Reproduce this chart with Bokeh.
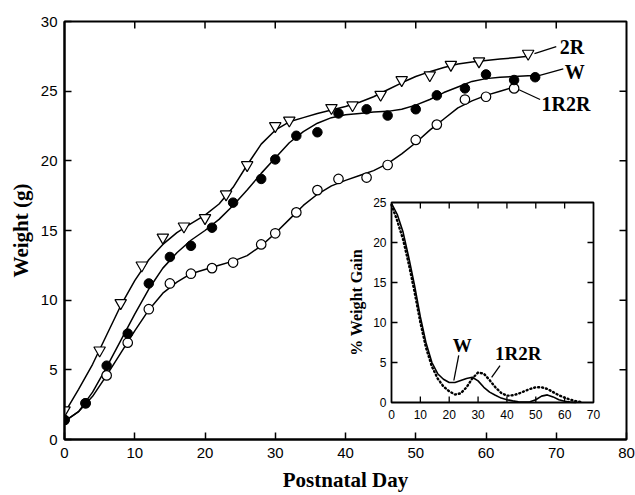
import math
from bokeh.plotting import figure
from bokeh.models import Range1d, FixedTicker
from bokeh.core.properties import value
from bokeh.embed import file_html
from bokeh.resources import INLINE

# ---------------- main chart data ----------------
x_ticks = [0, 10, 20, 30, 40, 50, 60, 70, 80]
y_ticks = [0, 5, 10, 15, 20, 25, 30]

days_2R = [0, 5, 8, 11, 14, 17, 20, 23, 26, 30, 32, 38, 41, 45, 48, 52, 55, 59, 66]
wt_2R = [2.1, 6.4, 9.8, 12.5, 14.5, 15.3, 15.9, 17.6, 19.7, 22.5, 22.9, 23.8, 24.0,
         24.75, 25.8, 26.15, 26.9, 27.15, 27.7]

days_W = [0, 3, 6, 9, 12, 15, 18, 21, 24, 28, 30, 33, 36, 39, 43, 46, 50, 53, 57, 60, 64, 67]
wt_W = [1.4, 2.6, 5.3, 7.6, 11.2, 13.1, 13.9, 15.2, 17.0, 18.7, 20.1, 21.8, 22.05, 23.4,
        23.7, 23.25, 23.7, 24.7, 25.2, 26.2, 25.8, 26.0]

days_1R2R = [0, 3, 6, 9, 12, 15, 18, 21, 24, 28, 30, 33, 36, 39, 43, 46, 50, 53, 57, 60, 64]
wt_1R2R = [1.4, 2.6, 4.6, 6.95, 9.35, 11.2, 11.9, 12.3, 12.7, 14.0, 14.8, 16.3, 17.9, 18.7,
           18.8, 19.7, 21.5, 22.6, 24.4, 24.6, 25.2]

# fitted curves
fit_days_2R = [0, 2, 4, 6, 8, 10, 12, 14, 16, 18, 20, 22, 24, 26, 28, 30, 32, 34, 36, 38,
               40, 42, 44, 46, 48, 50, 52, 54, 56, 58, 60, 62, 64, 66]
fit_2R = [1.9, 3.6, 5.4, 7.5, 9.6, 11.4, 12.9, 14.0, 14.85, 15.5, 16.1, 16.9, 18.1, 19.7,
          21.2, 22.2, 22.8, 23.1, 23.4, 23.65, 23.9, 24.2, 24.6, 25.1, 25.6, 26.05, 26.4,
          26.7, 26.95, 27.1, 27.2, 27.3, 27.4, 27.5]

fit_days_W = [0, 2, 4, 6, 8, 10, 12, 14, 16, 18, 20, 22, 24, 26, 28, 30, 32, 34, 36, 38,
              40, 42, 44, 46, 48, 50, 52, 54, 56, 58, 60, 62, 64, 66, 67]
fit_W = [1.3, 2.0, 3.4, 5.2, 7.1, 9.0, 10.8, 12.3, 13.4, 14.3, 15.0, 15.8, 16.8, 17.9,
         19.1, 20.2, 21.3, 22.1, 22.7, 23.1, 23.3, 23.4, 23.5, 23.55, 23.7, 24.0, 24.4,
         24.9, 25.3, 25.7, 25.9, 26.0, 26.05, 26.1, 26.1]

fit_days_1R2R = [0, 2, 4, 6, 8, 10, 12, 14, 16, 18, 20, 22, 24, 26, 28, 30, 32, 34, 36,
                 38, 40, 42, 44, 46, 48, 50, 52, 54, 56, 58, 60, 62, 64]
fit_1R2R = [1.3, 2.0, 3.1, 4.6, 6.2, 7.8, 9.3, 10.5, 11.3, 11.9, 12.2, 12.5, 12.8, 13.2,
            13.9, 14.8, 15.8, 16.8, 17.6, 18.2, 18.6, 18.95, 19.3, 19.8, 20.5, 21.3, 22.2,
            23.0, 23.8, 24.3, 24.7, 25.0, 25.3]

series_labels = ["2R", "W", "1R2R"]
label_x = [70.5, 71.2, 67.9]
label_y = [28.15, 26.4, 24.1]
leader_x0 = [66.9, 67.4, 64.7]
leader_y0 = [27.7, 26.1, 25.1]
leader_x1 = [70.0, 71.0, 67.7]
leader_y1 = [28.2, 26.6, 24.4]

# ---------------- inset data ----------------
inset_x_ticks = [0, 10, 20, 30, 40, 50, 60, 70]
inset_y_ticks = [0, 5, 10, 15, 20, 25]

gain_days_W = [0, 2, 4, 6, 8, 10, 12, 14, 16, 18, 20, 22, 24, 26, 28, 30, 32, 34, 36, 38,
               40, 42, 44, 46, 48, 50, 52, 54, 56, 58, 60, 62, 64]
gain_W = [24.9, 23.5, 21.3, 18.1, 14.6, 10.7, 7.4, 5.0, 3.6, 2.9, 2.5, 2.5, 2.75, 3.0,
          3.15, 2.7, 1.9, 1.3, 0.9, 0.55, 0.35, 0.2, 0.1, 0.05, 0.1, 0.35, 0.8, 0.95, 0.7,
          0.35, 0.15, 0.05, 0.0]

gain_days_1R2R = [0, 2, 4, 6, 8, 10, 12, 14, 16, 18, 20, 22, 24, 26, 28, 30, 32, 34, 36,
                  38, 40, 42, 44, 46, 48, 50, 52, 54, 56, 58, 60, 62, 64, 66]
gain_1R2R = [24.7, 22.7, 20.4, 17.3, 13.8, 10.0, 6.8, 4.5, 3.0, 2.0, 1.4, 1.0, 1.15, 1.9,
             3.0, 3.75, 3.6, 2.8, 1.9, 1.2, 0.85, 0.9, 1.1, 1.4, 1.7, 1.9, 1.9, 1.7, 1.3,
             0.9, 0.6, 0.35, 0.15, 0.05]

inset_labels = ["W", "1R2R"]
inset_label_x = [24.5, 43.9]
inset_label_y = [7.1, 6.1]
inset_leader_x0 = [23.3, 37.6]
inset_leader_y0 = [5.9, 4.6]
inset_leader_x1 = [21.6, 34.7]
inset_leader_y1 = [2.75, 3.15]

# ---------------- layout ----------------
W, H = 635, 495
FL, FR, FT, FB = 64, 626, 21, 439          # frame edges (px)
IL, IR, IT, IB = 391, 593, 202, 402        # inset frame edges (px)

SANS = "Liberation Sans"
SERIF = "Liberation Serif"

p = figure(width=W, height=H, x_range=Range1d(0, 80), y_range=Range1d(0, 30),
           output_backend="svg", toolbar_location=None,
           min_border_left=FL, min_border_right=W - FR,
           min_border_top=FT, min_border_bottom=H - FB)
p.background_fill_color = "white"
p.border_fill_color = "white"
p.outline_line_color = "black"
p.outline_line_width = 2
p.xgrid.visible = False
p.ygrid.visible = False

for ax in (p.xaxis[0], p.yaxis[0]):
    ax.major_tick_in = 7
    ax.major_tick_out = 0
    ax.minor_tick_in = 0
    ax.minor_tick_out = 0
    ax.axis_line_width = 2
    ax.axis_line_color = "black"
    ax.major_tick_line_width = 1.5
    ax.major_tick_line_color = "black"
    ax.major_label_text_font = SANS
    ax.major_label_text_font_size = "15px"
    ax.major_label_text_color = "black"
    ax.axis_label_text_font = SERIF
    ax.axis_label_text_font_style = "bold"
    ax.axis_label_text_font_size = "21px"
    ax.axis_label_text_color = "black"

p.xaxis.ticker = FixedTicker(ticks=x_ticks)
p.yaxis.ticker = FixedTicker(ticks=y_ticks)
p.xaxis.axis_label = "Postnatal Day"
p.yaxis.axis_label = "Weight (g)"
p.xaxis.major_label_standoff = 8
p.yaxis.major_label_standoff = 7
p.xaxis.axis_label_standoff = 7
p.yaxis.axis_label_standoff = 5

# mirror ticks on top and right edges of the frame
top_t = x_ticks[1:-1]
right_t = y_ticks[1:-1]
p.ray(x=top_t, y=[y_ticks[-1]] * len(top_t), length=7, angle=-math.pi / 2,
      length_units="screen", line_color="black", line_width=1.5)
p.ray(x=[x_ticks[-1]] * len(right_t), y=right_t, length=7, angle=math.pi,
      length_units="screen", line_color="black", line_width=1.5)

# curves
for fx, fy in ((fit_days_2R, fit_2R), (fit_days_W, fit_W), (fit_days_1R2R, fit_1R2R)):
    p.line(fx, fy, line_color="black", line_width=1.5, line_join="round")

# markers
p.scatter(days_1R2R, wt_1R2R, marker="circle", size=9.5, fill_color="white",
          line_color="black", line_width=1.2)
p.scatter(days_W, wt_W, marker="circle", size=9.5, fill_color="black",
          line_color="black", line_width=1)
p.scatter(days_2R, wt_2R, marker="inverted_triangle", size=11.5, fill_color="white",
          line_color="black", line_width=1.2)

# series labels
p.segment(x0=leader_x0, y0=leader_y0, x1=leader_x1, y1=leader_y1,
          line_color="black", line_width=1.3)
p.text(x=label_x, y=label_y, text=series_labels, text_align="left", text_baseline="middle",
       text_font=value(SERIF), text_font_style="bold", text_font_size="20px",
       text_color="black")

# ---------------- inset ----------------
def px_to_x(px):
    return (px - FL) / (FR - FL) * 80.0

def px_to_y(py):
    return (FB - py) / (FB - FT) * 30.0

sub = p.subplot(x_source=Range1d(0, 70), y_source=Range1d(0, 25),
                x_target=Range1d(px_to_x(IL), px_to_x(IR)),
                y_target=Range1d(px_to_y(IB), px_to_y(IT)))

sub.quad(left=[0], right=[70], bottom=[0], top=[25], fill_color="white",
         line_color="black", line_width=1.8)

mid_x = inset_x_ticks[1:-1]
mid_y = inset_y_ticks[1:-1]
sub.ray(x=mid_x, y=[0] * len(mid_x), length=6, angle=math.pi / 2, length_units="screen",
        line_color="black", line_width=1.3)
sub.ray(x=mid_x, y=[25] * len(mid_x), length=6, angle=-math.pi / 2, length_units="screen",
        line_color="black", line_width=1.3)
sub.ray(x=[0] * len(mid_y), y=mid_y, length=6, angle=0, length_units="screen",
        line_color="black", line_width=1.3)
sub.ray(x=[70] * len(mid_y), y=mid_y, length=6, angle=math.pi, length_units="screen",
        line_color="black", line_width=1.3)

sub.text(x=inset_x_ticks, y=[0] * len(inset_x_ticks), text=[str(t) for t in inset_x_ticks],
         text_align="center", text_baseline="top", y_offset=7,
         text_font=value(SANS), text_font_size="12px", text_color="black")
sub.text(x=[0] * len(inset_y_ticks), y=inset_y_ticks, text=[str(t) for t in inset_y_ticks],
         text_align="right", text_baseline="middle", x_offset=-5,
         text_font=value(SANS), text_font_size="12px", text_color="black")
sub.text(x=[-12], y=[12.5], text=["% Weight Gain"], angle=math.pi / 2,
         text_align="center", text_baseline="middle",
         text_font=value(SERIF), text_font_style="bold", text_font_size="16px",
         text_color="black")

sub.line(gain_days_W, gain_W, line_color="black", line_width=1.6, line_join="round")
sub.line(gain_days_1R2R, gain_1R2R, line_color="black", line_width=2.4,
         line_dash="1 3", line_cap="round")

sub.segment(x0=inset_leader_x0, y0=inset_leader_y0, x1=inset_leader_x1, y1=inset_leader_y1,
            line_color="black", line_width=1.3)
sub.text(x=inset_label_x, y=inset_label_y, text=inset_labels, text_align="center",
         text_baseline="middle", text_font=value(SERIF), text_font_style="bold",
         text_font_size="19px", text_color="black")

open("out.html", "w").write(file_html(p, INLINE))
